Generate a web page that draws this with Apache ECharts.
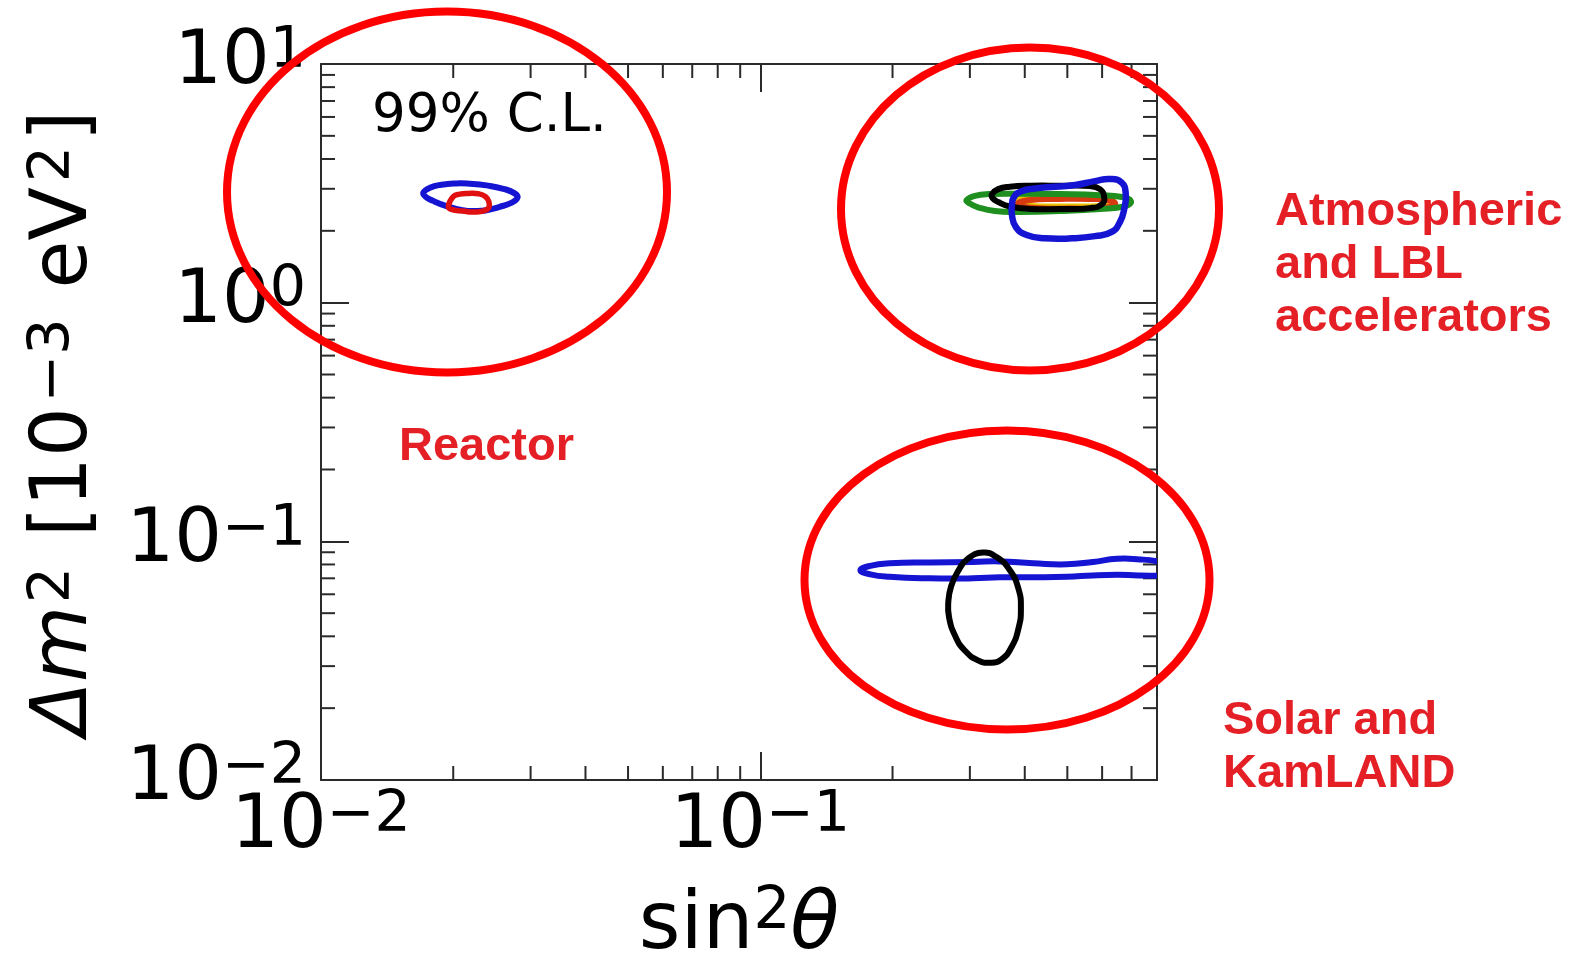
<!DOCTYPE html>
<html>
<head>
<meta charset="utf-8">
<title>Oscillation parameters, 99% C.L.</title>
<script src="https://cdn.jsdelivr.net/npm/echarts@6/dist/echarts.min.js"></script>
<style>
  html, body { margin: 0; padding: 0; background: #fff; }
  #chart { width: 1593px; height: 960px; }
</style>
</head>
<body>
<div id="chart"></div>
<script>
// axis ranges (sin^2 theta, delta m^2 in 1e-3 eV^2)
const xRange = [0.01, 0.8];
const yRange = [0.01, 10];
const xMinorTicks = [0.02, 0.03, 0.04, 0.05, 0.06, 0.07, 0.08, 0.09, 0.2, 0.3, 0.4, 0.5, 0.6, 0.7];
const yMinorTicks = [0.02, 0.03, 0.04, 0.05, 0.06, 0.07, 0.08, 0.09,
  0.2, 0.3, 0.4, 0.5, 0.6, 0.7, 0.8, 0.9, 2, 3, 4, 5, 6, 7, 8, 9];

// reactor contours
const reactorBlue = [
  [0.0171, 2.89], [0.0177, 3.03], [0.0188, 3.12], [0.0203, 3.16], [0.0218, 3.15],
  [0.0238, 3.10], [0.0260, 3.00], [0.0276, 2.87], [0.0280, 2.75], [0.0271, 2.62],
  [0.0255, 2.52], [0.0238, 2.44], [0.0226, 2.42], [0.0210, 2.44], [0.0193, 2.54],
  [0.0180, 2.67], [0.0173, 2.78]
];
const reactorRed = [
  [0.0195, 2.54], [0.0200, 2.78], [0.0207, 2.85], [0.0216, 2.87], [0.0228, 2.86],
  [0.0237, 2.78], [0.0241, 2.65], [0.0240, 2.48], [0.0226, 2.40], [0.0210, 2.42],
  [0.0198, 2.46]
];

// atmospheric + long baseline accelerator contours
const atmYellow = [
  [0.380, 2.66], [0.400, 2.78], [0.457, 2.82], [0.534, 2.82], [0.609, 2.78],
  [0.635, 2.66], [0.609, 2.56], [0.534, 2.53], [0.457, 2.53], [0.400, 2.56]
];
const atmRed = [
  [0.386, 2.59], [0.411, 2.69], [0.481, 2.72], [0.563, 2.72], [0.625, 2.68],
  [0.642, 2.59], [0.609, 2.50], [0.507, 2.48], [0.422, 2.49]
];
const atmGreen = [
  [0.295, 2.69], [0.308, 2.80], [0.333, 2.85], [0.390, 2.86], [0.481, 2.85],
  [0.593, 2.82], [0.666, 2.77], [0.698, 2.66], [0.677, 2.54], [0.593, 2.47],
  [0.481, 2.42], [0.390, 2.40], [0.342, 2.42], [0.313, 2.51], [0.299, 2.61]
];
const atmBlack = [
  [0.337, 2.85], [0.348, 2.99], [0.370, 3.06], [0.411, 3.09], [0.481, 3.09],
  [0.563, 3.08], [0.593, 2.99], [0.606, 2.80], [0.600, 2.59], [0.563, 2.49],
  [0.481, 2.47], [0.411, 2.47], [0.370, 2.53], [0.348, 2.64], [0.338, 2.74]
];
const atmBlue = [
  [0.374, 2.56], [0.378, 2.77], [0.393, 2.93], [0.422, 3.01], [0.469, 3.06],
  [0.521, 3.11], [0.578, 3.23], [0.625, 3.30], [0.664, 3.19], [0.679, 2.87],
  [0.674, 2.48], [0.659, 2.18], [0.631, 1.98], [0.578, 1.90], [0.512, 1.86],
  [0.445, 1.86], [0.404, 1.92], [0.382, 2.07], [0.374, 2.33]
];

// solar + KamLAND contours
const solarBlue = [
  [0.169, 0.0756], [0.178, 0.0789], [0.197, 0.0809], [0.243, 0.0816], [0.305, 0.0820],
  [0.351, 0.0824], [0.418, 0.0809], [0.499, 0.0801], [0.572, 0.0820], [0.649, 0.0845],
  [0.732, 0.0840], [0.800, 0.0824], [0.834, 0.0801], [0.848, 0.0770], [0.834, 0.0727],
  [0.732, 0.0720], [0.649, 0.0724], [0.572, 0.0720], [0.499, 0.0710], [0.418, 0.0707],
  [0.351, 0.0707], [0.305, 0.0700], [0.243, 0.0700], [0.197, 0.0710], [0.178, 0.0727]
];
const solarBlack = [
  [0.321, 0.0897], [0.345, 0.0859], [0.370, 0.0756], [0.387, 0.0633], [0.392, 0.0522],
  [0.387, 0.0431], [0.373, 0.0360], [0.354, 0.0320], [0.333, 0.0310], [0.313, 0.0317],
  [0.292, 0.0349], [0.278, 0.0400], [0.269, 0.0480], [0.268, 0.0560], [0.272, 0.0650],
  [0.282, 0.0750], [0.297, 0.0846]
];

const axisColor = '#2a2a2a';
const blue = '#1414d2';
const majorLen = 28;
const minorLen = 14;

const chart = echarts.init(document.getElementById('chart'));

function powerLabel(v) {
  const lg = Math.log10(v);
  const e = Math.round(lg);
  if (Math.abs(lg - e) > 1e-6) return '';
  return '{b|10}{s|' + (e < 0 ? '\u2212' : '') + Math.abs(e) + '}';
}

const tickRich = {
  b: { fontFamily: 'DejaVu Sans', fontSize: 75, lineHeight: 80, color: '#000' },
  s: { fontFamily: 'DejaVu Sans', fontSize: 57, lineHeight: 36, verticalAlign: 'top', color: '#000' }
};

function contour(points, color, width) {
  return {
    type: 'custom',
    coordinateSystem: 'cartesian2d',
    clip: true,
    silent: true,
    animation: false,
    data: points,
    renderItem: function (params, api) {
      if (params.dataIndex !== 0) return null;
      return {
        type: 'polygon',
        shape: { points: points.map(p => api.coord(p)), smooth: 0.5 },
        style: { fill: 'none', stroke: color, lineWidth: width }
      };
    }
  };
}

// minor ticks on both sides of each axis
function minorTicks(values, horizontal) {
  return {
    type: 'custom',
    coordinateSystem: 'cartesian2d',
    silent: true,
    animation: false,
    data: values.map(v => horizontal ? [v, 1] : [0.1, v]),
    renderItem: function (params, api) {
      const cs = params.coordSys;
      const p = api.coord([api.value(0), api.value(1)]);
      const st = { stroke: axisColor, lineWidth: 2 };
      if (horizontal) {
        const b = cs.y + cs.height;
        return { type: 'group', children: [
          { type: 'line', shape: { x1: p[0], y1: b, x2: p[0], y2: b - minorLen }, style: st },
          { type: 'line', shape: { x1: p[0], y1: cs.y, x2: p[0], y2: cs.y + minorLen }, style: st }
        ] };
      }
      const r = cs.x + cs.width;
      return { type: 'group', children: [
        { type: 'line', shape: { x1: cs.x, y1: p[1], x2: cs.x + minorLen, y2: p[1] }, style: st },
        { type: 'line', shape: { x1: r, y1: p[1], x2: r - minorLen, y2: p[1] }, style: st }
      ] };
    }
  };
}

function frameAxis(position, extent, extra) {
  return Object.assign({
    type: 'log',
    logBase: 10,
    position: position,
    min: extent[0],
    max: extent[1],
    splitLine: { show: false },
    axisLine: { show: true, lineStyle: { color: axisColor, width: 2 } },
    axisTick: { show: true, inside: true, length: majorLen, lineStyle: { color: axisColor, width: 2 } },
    axisLabel: { show: false }
  }, extra || {});
}

function redRing(cx, cy, rx, ry) {
  return {
    type: 'ellipse',
    z: 100,
    shape: { cx: cx, cy: cy, rx: rx, ry: ry },
    style: { fill: 'none', stroke: '#ff0000', lineWidth: 8 }
  };
}

function redLabel(x, y, text) {
  return {
    type: 'text',
    z: 100,
    x: x,
    y: y,
    style: {
      text: text,
      fill: '#e41f26',
      fontFamily: 'Liberation Sans',
      fontWeight: 'bold',
      fontSize: 47,
      lineHeight: 53,
      align: 'left',
      verticalAlign: 'middle'
    }
  };
}

chart.setOption({
  animation: false,
  backgroundColor: '#fff',
  grid: { left: 321, top: 64, width: 836, height: 716, containLabel: false, outerBoundsMode: 'none' },
  xAxis: [
    frameAxis('bottom', xRange, {
      name: '{n|sin}{s|2}{i|\u03b8}',
      nameLocation: 'middle',
      nameGap: 104,
      nameTextStyle: {
        rich: {
          n: { fontFamily: 'DejaVu Sans', fontSize: 80, lineHeight: 86, color: '#000' },
          s: { fontFamily: 'DejaVu Sans', fontSize: 58, lineHeight: 30, verticalAlign: 'top', color: '#000' },
          i: { fontFamily: 'DejaVu Sans', fontStyle: 'italic', fontSize: 80, lineHeight: 86, color: '#000' }
        }
      },
      axisLabel: { show: true, margin: 8, formatter: powerLabel, rich: tickRich }
    }),
    frameAxis('top', xRange)
  ],
  yAxis: [
    frameAxis('left', yRange, {
      name: '{i|\u0394m}{s|2}{n| [10}{s|\u22123}{n| eV}{s|2}{n|]}',
      nameLocation: 'middle',
      nameRotate: 90,
      nameGap: 215,
      nameTextStyle: {
        rich: {
          n: { fontFamily: 'DejaVu Sans', fontSize: 78, lineHeight: 80, color: '#000', padding: [0, 2, 0, 2] },
          s: { fontFamily: 'DejaVu Sans', fontSize: 57, lineHeight: 32, verticalAlign: 'top', color: '#000', padding: [0, 3, 0, 3] },
          i: { fontFamily: 'DejaVu Sans', fontStyle: 'italic', fontSize: 78, lineHeight: 80, color: '#000' }
        }
      },
      axisLabel: { show: true, margin: 15, formatter: powerLabel, rich: tickRich }
    }),
    frameAxis('right', yRange)
  ],
  series: [
    minorTicks(xMinorTicks, true),
    minorTicks(yMinorTicks, false),
    contour(reactorBlue, blue, 6),
    contour(reactorRed, '#e01010', 5.5),
    contour(atmYellow, '#e6c200', 6),
    contour(atmRed, '#d83a10', 6),
    contour(atmGreen, '#1f8f1f', 6),
    contour(atmBlack, '#000', 6),
    contour(atmBlue, blue, 6.5),
    contour(solarBlue, blue, 6),
    contour(solarBlack, '#000', 6)
  ],
  graphic: [
    {
      type: 'text',
      x: 372,
      y: 117,
      style: {
        text: '99% C.L.',
        fill: '#000',
        fontFamily: 'DejaVu Sans',
        fontSize: 53,
        align: 'left',
        verticalAlign: 'middle'
      }
    },
    redRing(447, 192, 220, 180.5),
    redRing(1030, 209, 189, 161.5),
    redRing(1007, 580, 202.5, 149.5),
    redLabel(399, 447, 'Reactor'),
    redLabel(1275, 265, 'Atmospheric\nand LBL\naccelerators'),
    redLabel(1223, 748, 'Solar and\nKamLAND')
  ]
});
</script>
</body>
</html>
